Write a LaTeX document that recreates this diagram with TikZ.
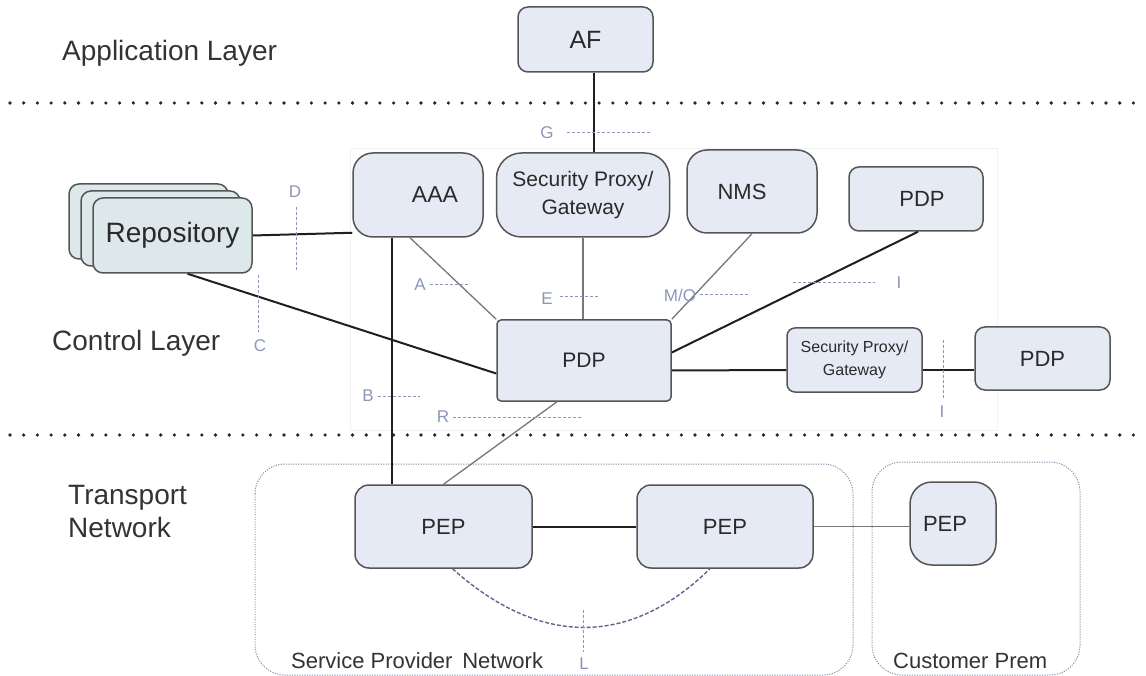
\documentclass[tikz,border=0pt]{standalone}
\usepackage{fontspec}
\setmainfont{Liberation Sans}
\definecolor{boxfill}{HTML}{E6EAF4}
\definecolor{boxline}{HTML}{555555}
\definecolor{repofill}{HTML}{DDE8EA}
\definecolor{txt}{HTML}{2A2A2A}
\definecolor{lbl}{HTML}{8C96B8}
\definecolor{greyline}{HTML}{777777}
\definecolor{cont}{HTML}{8A94A8}
\definecolor{curvec}{HTML}{5C6490}
\newcommand{\myfs}[2]{\fontsize{#1}{#2}\selectfont}
\tikzset{
  box/.style={draw=boxline, fill=boxfill, line width=1.5pt, rounded corners=#1, text=txt, inner sep=0pt},
  box/.default=10pt,
  repobox/.style={draw=boxline, fill=repofill, line width=1.5pt, rounded corners=10pt, minimum width=159pt, minimum height=75pt, inner sep=0pt, text=txt},
  blk/.style={draw=black!88, line width=2pt},
  gry/.style={draw=greyline, line width=1.3pt},
  dl/.style={draw=lbl, line width=1pt, dash pattern=on 3pt off 2pt},
  lab/.style={text=lbl, font=\myfs{17}{19}, inner sep=1pt},
  layer/.style={text=black!80, font=\myfs{28}{33}, anchor=base west, align=left, inner sep=0pt},
  contbox/.style={draw=cont, line width=1pt, dash pattern=on 1.2pt off 1.3pt, rounded corners=30pt},
  sep/.style={draw=black!85, line width=3.6pt, dash pattern=on 0pt off 13.7pt, line cap=round}
}
\begin{document}
\begin{tikzpicture}[x=1pt,y=-1pt]
\useasboundingbox (0,0) rectangle (1146,676);
% faint background region
\draw[draw=black!5, fill=white, line width=0.8pt] (350,148) rectangle (997,430);
% layer separators
\draw[sep] (10,103) -- (1146,103);
\draw[sep] (10,435) -- (1146,435);
% layer labels
\node[layer] (appl) at (62,61) {Application Layer};
\node[layer] (ctrl) at (52,350) {Control Layer};
\node[layer] (trans) at (68,537) {Transport\\Network};
% containers
\draw[contbox] (255,464) rectangle (853,675);
\draw[contbox] (872,462) rectangle (1080,675);
\node[anchor=west, text=black!80, font=\myfs{22}{24}, inner sep=0pt] (spn) at (291,661) {Service Provider\, Network};
\node[anchor=west, text=black!80, font=\myfs{22}{24}, inner sep=0pt] (cpr) at (893,661) {Customer Prem};
% nodes
\node[box=10pt, minimum width=135pt, minimum height=65pt, font=\myfs{25}{28}] (af) at (585.5,39.5) {AF};
\node[box=25pt, minimum width=173pt, minimum height=84pt, font=\myfs{21}{28}, align=center] (sp) at (583,195) {Security Proxy/\\Gateway};
\node[box=20pt, minimum width=130pt, minimum height=84pt, font=\myfs{23}{26}] (aaa) at (418,195) {\hspace*{34pt}AAA};
\node[box=20pt, minimum width=130pt, minimum height=83pt, font=\myfs{22}{26}] (nms) at (752,191.5) {NMS\hspace*{20pt}};
\node[box=10pt, minimum width=134pt, minimum height=64pt, font=\myfs{22}{26}] (pdpr) at (916,199) {\hspace*{12pt}PDP};
\node[box=4pt, minimum width=174pt, minimum height=81pt, font=\myfs{21}{26}] (pdp) at (584,360.5) {PDP};
\node[box=8pt, minimum width=135pt, minimum height=64pt, font=\myfs{16}{23}, align=center] (sp2) at (854.5,360) {Security Proxy/\\Gateway};
\node[box=10pt, minimum width=135pt, minimum height=63pt, font=\myfs{22}{26}] (pdp3) at (1042.5,358.5) {PDP};
\node[box=14pt, minimum width=177pt, minimum height=83pt, font=\myfs{22}{26}] (pep1) at (443.5,526.5) {PEP};
\node[box=14pt, minimum width=176pt, minimum height=83pt, font=\myfs{22}{26}] (pep2) at (725,526.5) {PEP};
\node[box=22pt, minimum width=86pt, minimum height=83pt, font=\myfs{22}{26}] (pep3) at (953,523.5) {PEP\hspace*{16pt}};
\node[repobox] (repo3) at (148.5,221.5) {};
\node[repobox] (repo2) at (160.5,228.5) {};
\node[repobox, font=\myfs{28}{30}] (repo) at (172.5,235.5) {Repository};
% connectors
\draw[blk] ([xshift=8]af.south) -- ([xshift=8]af.south |- sp.north);
\draw[blk] (repo.east) -- ([yshift=5]aaa.south west);
\draw[blk] ([xshift=15]repo.south) -- ([yshift=-13]pdp.west);
\draw[blk] ([xshift=-26]aaa.south) -- ([xshift=-26]aaa.south |- pep1.north);
\draw[gry] ([xshift=-8]aaa.south) -- (pdp.north west);
\draw[gry] (sp.south) -- (sp.south |- pdp.north);
\draw[gry] (nms.south) -- (pdp.north east);
\draw[blk] ([xshift=2]pdpr.south) -- ([yshift=8]pdp.east);
\draw[blk] ([yshift=-10]pdp.east) -- ([yshift=-10]sp2.west);
\draw[blk] ([yshift=-10]sp2.east) -- ([yshift=-10]sp2.east -| pdp3.west);
\draw[gry] ([xshift=-27]pdp.south) -- (pep1.north);
\draw[blk] (pep1.east) -- (pep2.west);
\draw[gry] (pep2.east) -- (pep2.east -| pep3.west);
\draw[draw=curvec, line width=1.4pt, dash pattern=on 4pt off 2pt] ([xshift=9]pep1.south) .. controls (540,647) and (630,647) .. ([xshift=-15]pep2.south);
% reference point labels
\node[lab] (lG) at (547,133) {G};
\coordinate (gE) at (652,133);
\draw[dl] (567,133) -- (gE);
\node[lab] (lD) at (295,192) {D};
\draw[dl] (296,207) -- (296,272);
\node[lab] (lC) at (260,346) {C};
\draw[dl] (258,275) -- (258,332);
\node[lab] (lA) at (420,285) {A};
\draw[dl] (430,285) -- (468,285);
\node[lab] (lB) at (368,396) {B};
\draw[dl] (378,396) -- (420,396);
\node[lab] (lE) at (547,299) {E};
\draw[dl] (560,297) -- (599,297);
\node[lab] (lMO) at (680,295) {M/O};
\draw[dl] (700,295) -- (750,295);
\draw[dl] (793,283) -- (875,283);
\node[lab] (lI1) at (899,283) {I};
\draw[dl] (943,340) -- (943,398);
\node[lab] (lI2) at (942,412) {I};
\node[lab] (lR) at (443,417) {R};
\draw[dl] (453,417) -- (582,417);
\draw[dl] (583,610) -- (583,652);
\node[lab] (lL) at (584,664) {L};
\end{tikzpicture}
\end{document}
